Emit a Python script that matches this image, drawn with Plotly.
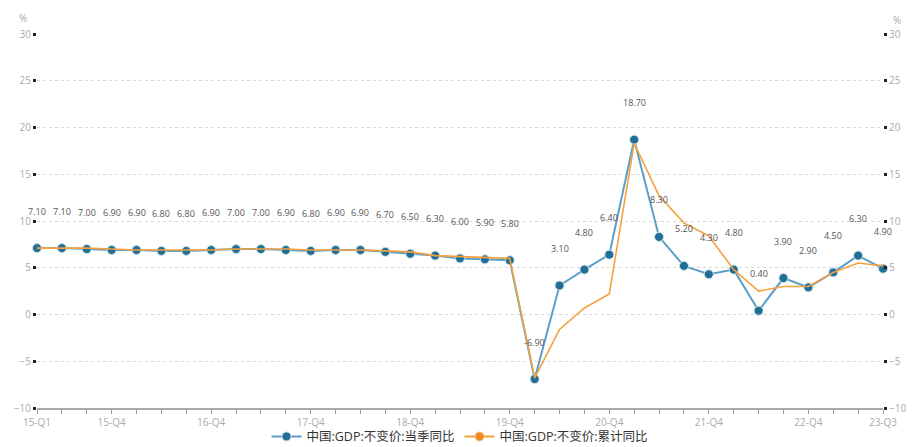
import plotly.graph_objects as go

quarters = ["15-Q1","15-Q2","15-Q3","15-Q4","16-Q1","16-Q2","16-Q3","16-Q4",
            "17-Q1","17-Q2","17-Q3","17-Q4","18-Q1","18-Q2","18-Q3","18-Q4",
            "19-Q1","19-Q2","19-Q3","19-Q4","20-Q1","20-Q2","20-Q3","20-Q4",
            "21-Q1","21-Q2","21-Q3","21-Q4","22-Q1","22-Q2","22-Q3","22-Q4",
            "23-Q1","23-Q2","23-Q3"]
quarterly_yoy = [7.1, 7.1, 7.0, 6.9, 6.9, 6.8, 6.8, 6.9,
                 7.0, 7.0, 6.9, 6.8, 6.9, 6.9, 6.7, 6.5,
                 6.3, 6.0, 5.9, 5.8, -6.9, 3.1, 4.8, 6.4,
                 18.7, 8.3, 5.2, 4.3, 4.8, 0.4, 3.9, 2.9,
                 4.5, 6.3, 4.9]
cumulative_yoy = [7.1, 7.1, 7.1, 7.0, 6.9, 6.9, 6.9, 6.9,
                  7.0, 7.0, 7.0, 6.9, 6.9, 6.9, 6.8, 6.7,
                  6.3, 6.2, 6.1, 6.0, -6.8, -1.6, 0.7, 2.2,
                  18.3, 12.7, 9.8, 8.4, 4.8, 2.5, 3.0, 3.0,
                  4.5, 5.5, 5.2]
shown_tick_labels = ["15-Q1","15-Q4","16-Q4","17-Q4","18-Q4","19-Q4","20-Q4","21-Q4","22-Q4","23-Q3"]
name_q = "中国:GDP:不变价:当季同比"
name_c = "中国:GDP:不变价:累计同比"

FONT = "Open Sans, Noto Sans CJK SC, sans-serif"
BLUE_LINE = "#5b9fc6"
BLUE_MK = "#1f6f96"
ORANGE = "#f5a140"

fig = go.Figure()
fig.add_trace(go.Scatter(
    x=quarters, y=cumulative_yoy, mode="lines", name=name_c,
    line=dict(color=ORANGE, width=1.6), showlegend=False, yaxis="y2",
    cliponaxis=False, hoverinfo="skip"))
fig.add_trace(go.Scatter(
    x=quarters, y=quarterly_yoy, mode="lines+markers", name=name_q,
    line=dict(color=BLUE_LINE, width=2),
    marker=dict(color=BLUE_MK, size=9, line=dict(color="#d0dde5", width=1)),
    cliponaxis=False, showlegend=True))
fig.add_trace(go.Scatter(
    x=[None], y=[None], mode="lines+markers", name=name_c,
    line=dict(color=ORANGE, width=2),
    marker=dict(color="#f28a24", size=9, line=dict(color="#f7c48c", width=1))))

for q, v in zip(quarters, quarterly_yoy):
    fig.add_annotation(x=q, y=v, text=f"{v:.2f}", showarrow=False, yshift=37,
                       font=dict(family=FONT, size=9, color="#555555"))

ticktext = [q if q in shown_tick_labels else "" for q in quarters]

fig.update_layout(
    width=907, height=439,
    margin=dict(l=29, r=32, t=26, b=39, autoexpand=False),
    paper_bgcolor="white", plot_bgcolor="white",
    font=dict(family=FONT, color="#333333"),
    xaxis=dict(type="category", range=[0, len(quarters) - 1],
               tickmode="array", tickvals=quarters, ticktext=ticktext,
               ticks="outside", ticklen=4, tickcolor="#999999", tickwidth=1,
               showline=True, linecolor="#aaaaaa", linewidth=1.5,
               showgrid=False, zeroline=False, automargin=False,
               tickfont=dict(family=FONT, size=10, color="#aaaaaa")),
    yaxis=dict(range=[-10, 30], dtick=5, showgrid=True,
               gridcolor="#d8d8d8", griddash="dot", gridwidth=1,
               zeroline=False, showline=False, automargin=False,
               ticks="outside", ticklen=3, tickwidth=3, tickcolor="#222222",
               tickfont=dict(family=FONT, size=10, color="#aaaaaa")),
    yaxis2=dict(range=[-10, 30], dtick=5, overlaying="y", side="right",
                showgrid=False, zeroline=False, showline=False, automargin=False,
                ticks="outside", ticklen=3, tickwidth=3, tickcolor="#222222",
                tickfont=dict(family=FONT, size=10, color="#aaaaaa")),
    legend=dict(orientation="h", x=0.5, xanchor="center", y=-0.037, yanchor="top",
                font=dict(family=FONT, size=12.5, color="#333333"),
                bgcolor="rgba(0,0,0,0)", itemwidth=30),
    showlegend=True,
)
fig.add_annotation(xref="paper", yref="paper", x=-0.0165, y=1.043, text="%",
                   showarrow=False, xanchor="center", yanchor="middle",
                   font=dict(family=FONT, size=10, color="#aaaaaa"))
fig.add_annotation(xref="paper", yref="paper", x=1.0165, y=1.037, text="%",
                   showarrow=False, xanchor="center", yanchor="middle",
                   font=dict(family=FONT, size=10, color="#aaaaaa"))

fig.write_html("out.html")
